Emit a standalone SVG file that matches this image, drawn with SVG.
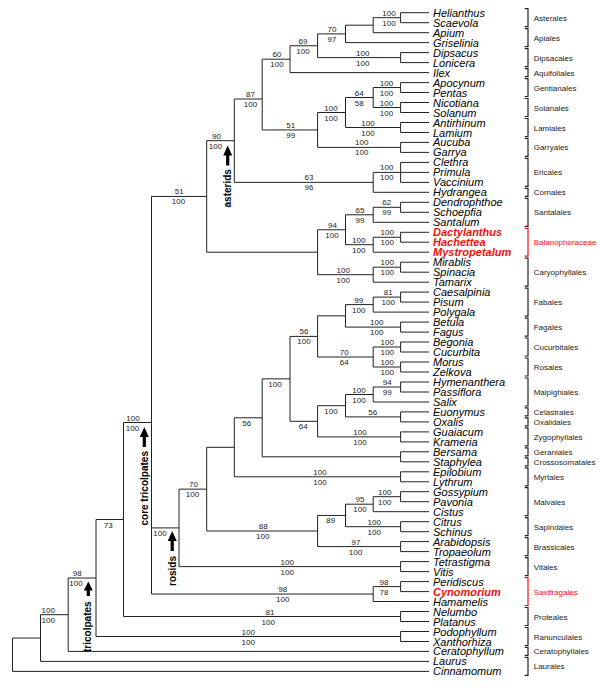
<svg xmlns="http://www.w3.org/2000/svg" width="600" height="688" viewBox="0 0 600 688">
<style>
.t{font:italic 11px "Liberation Sans",Arial,sans-serif;fill:#000}
.r{font-weight:bold;fill:#f01010}
.s{font:8px "Liberation Sans",Arial,sans-serif;fill:#222;text-anchor:middle}
.o{font:8px "Liberation Sans",Arial,sans-serif;fill:#222}
.or{fill:#f01010}
.b{fill:none;stroke:#222;stroke-width:1.2}
.br{stroke:#f01010}
.e{fill:none;stroke:#222;stroke-width:1}
.c{font:bold 10px "Liberation Sans",Arial,sans-serif;fill:#000;text-anchor:middle}
.a{fill:#000}
</style>
<rect width="600" height="688" fill="#fff"/>
<g id="connectors">
<path class="e" d="M429 12.7H400.6V22.7H429M429 52.6H400.6V62.6H429M429 82.6H400.6V92.5H429M429 102.5H400.6V112.5H429M429 122.5H400.6V132.5H429M429 142.4H400.6V152.4H429M429 162.4H400.6V182.4H429M400.6 172.4H429M429 202.3H400.6V212.3H429M429 232.3H400.6V242.2H429M429 262.2H400.6V272.2H429M429 292.1H400.6V302.1H429M429 322.1H400.6V332.1H429M429 342H400.6V352H429M429 362H400.6V372H429M429 382H400.6V392H429M429 411.9H400.6V421.9H429M429 431.9H400.6V441.9H429M429 451.8H400.6V461.8H429M429 471.8H400.6V481.8H429M429 491.7H400.6V501.7H429M429 521.7H400.6V531.7H429M429 541.6H400.6V551.6H429M429 561.6H400.6V571.6H429M429 581.6H400.6V591.6H429M429 611.5H400.6V621.5H429M429 631.5H400.6V641.5H429"/>
<path class="e" d="M400.6 17.7H373.2V32.7H429M373.2 25.2H345.5V42.6H429M345.5 33.9H317.6V57.6H400.6M317.6 45.75H290V72.6H429M400.6 87.55H373.2V107.5H400.6M373.2 97.5H345.5V127.5H400.6M345.5 112.5H317.6V147.4H400.6M290 59.2H262.2V129.95H317.6M400.6 172.4H373.2V192.3H429M262.2 99H234.3V182.35H373.2M400.6 207.3H373.2V222.3H429M400.6 237.25H373.2V252.2H429M373.2 214.8H345.5V244.7H373.2M400.6 267.2H373.2V282.2H429M345.5 229.75H317.6V274.7H373.2M234.3 140.7H206.7V252.2H317.6"/>
<path class="e" d="M400.6 297.1H373.2V312.1H429M373.2 304.6H345.5V327.1H400.6M400.6 347H373.2V367H400.6M345.5 315.85H317.6V357H373.2M400.6 387H373.2V402H429M373.2 394.5H345.5V416.9H400.6M345.5 405.7H317.6V436.9H400.6M317.6 336.4H290V421.3H317.6M290 378.85H262.2V456.8H400.6M262.2 417.8H234.3V476.8H400.6M400.6 496.7H373.2V511.7H429M373.2 504.2H345.5V526.7H400.6M345.5 515.45H317.6V546.6H400.6M234.3 447.3H206.7V531H317.6M206.7 489.15H179V566.6H400.6M400.6 586.6H373.2V601.5H429M206.7 196.45H151.5V594.05H373.2M151.5 527.9H179M151.5 422.5H123.5V616.5H400.6M123.5 519.5H96V636.5H400.6M96 578H68.2V651.4H429M68.2 614.7H40.5V661.4H429M40.5 638.05H12.5V671.4H429"/>
</g>
<g id="support">
<text class="s" x="389" y="15.7">100</text><text class="s" x="389" y="25.7">100</text>
<text class="s" x="332" y="31.9">70</text><text class="s" x="332" y="41.9">97</text>
<text class="s" x="362.7" y="55.6">100</text><text class="s" x="362.7" y="65.6">100</text>
<text class="s" x="303" y="43.75">69</text><text class="s" x="303" y="53.75">100</text>
<text class="s" x="277" y="57.2">60</text><text class="s" x="277" y="67.2">100</text>
<text class="s" x="250.5" y="97">87</text><text class="s" x="250.5" y="107">100</text>
<text class="s" x="386.5" y="85.55">100</text><text class="s" x="386.5" y="95.55">100</text>
<text class="s" x="386.5" y="105.5">100</text><text class="s" x="386.5" y="115.5">100</text>
<text class="s" x="359.3" y="95.5">64</text><text class="s" x="359.3" y="105.5">58</text>
<text class="s" x="368" y="125.5">100</text><text class="s" x="368" y="135.5">100</text>
<text class="s" x="331" y="110.5">100</text><text class="s" x="331" y="120.5">100</text>
<text class="s" x="361.7" y="145.4">100</text><text class="s" x="361.7" y="155.4">100</text>
<text class="s" x="290.7" y="127.95">51</text><text class="s" x="290.7" y="137.95">99</text>
<text class="s" x="386.7" y="170.4">100</text><text class="s" x="386.7" y="180.4">100</text>
<text class="s" x="309" y="180.35">63</text><text class="s" x="309" y="190.35">96</text>
<text class="s" x="216.5" y="138.7">90</text><text class="s" x="215.5" y="148.7">100</text>
<text class="s" x="386.7" y="205.3">62</text><text class="s" x="386.7" y="215.3">99</text>
<text class="s" x="360" y="212.8">65</text><text class="s" x="360" y="222.8">99</text>
<text class="s" x="332.5" y="227.75">94</text><text class="s" x="332" y="237.75">100</text>
<text class="s" x="387.3" y="235.25">100</text><text class="s" x="387.3" y="245.25">100</text>
<text class="s" x="358.7" y="242.7">100</text><text class="s" x="358.7" y="252.7">100</text>
<text class="s" x="387.3" y="265.2">100</text><text class="s" x="387.3" y="275.2">100</text>
<text class="s" x="343.3" y="272.7">100</text><text class="s" x="343.3" y="282.7">100</text>
<text class="s" x="179.3" y="194.45">51</text><text class="s" x="178.5" y="204.45">100</text>
<text class="s" x="388.3" y="295.1">81</text><text class="s" x="388.3" y="305.1">100</text>
<text class="s" x="358.7" y="302.6">99</text><text class="s" x="358.7" y="312.6">100</text>
<text class="s" x="376.7" y="325.1">100</text><text class="s" x="376.7" y="335.1">100</text>
<text class="s" x="304" y="334.4">56</text><text class="s" x="304" y="344.4">100</text>
<text class="s" x="387.3" y="345">100</text><text class="s" x="387.3" y="355">100</text>
<text class="s" x="387.3" y="365">100</text><text class="s" x="387.3" y="375">100</text>
<text class="s" x="344.3" y="355">70</text><text class="s" x="344.3" y="365">64</text>
<text class="s" x="387.3" y="385">94</text><text class="s" x="387.3" y="395">99</text>
<text class="s" x="359" y="392.5">100</text><text class="s" x="359" y="402.5">100</text>
<text class="s" x="372.7" y="414.9">56</text>
<text class="s" x="331" y="413.7">100</text>
<text class="s" x="360" y="434.9">100</text><text class="s" x="360" y="444.9">100</text>
<text class="s" x="303.3" y="429.3">64</text>
<text class="s" x="275" y="386.85">100</text>
<text class="s" x="246.7" y="425.8">56</text>
<text class="s" x="320" y="474.8">100</text><text class="s" x="320" y="484.8">100</text>
<text class="s" x="384.7" y="494.7">100</text><text class="s" x="384.7" y="504.7">100</text>
<text class="s" x="360" y="502.2">95</text><text class="s" x="360" y="512.2">100</text>
<text class="s" x="374.3" y="524.7">100</text><text class="s" x="374.3" y="534.7">100</text>
<text class="s" x="330.7" y="523.45">89</text>
<text class="s" x="356" y="544.6">97</text><text class="s" x="355.5" y="554.6">100</text>
<text class="s" x="263.3" y="529">88</text><text class="s" x="262.7" y="539">100</text>
<text class="s" x="193.5" y="487.15">70</text><text class="s" x="192.5" y="497.15">100</text>
<text class="s" x="287.3" y="564.6">100</text><text class="s" x="287.3" y="574.6">100</text>
<text class="s" x="160" y="535.9">100</text>
<text class="s" x="384" y="584.6">98</text><text class="s" x="384" y="594.6">78</text>
<text class="s" x="282.7" y="592.05">98</text><text class="s" x="282.7" y="602.05">100</text>
<text class="s" x="133" y="420.5">100</text><text class="s" x="132.5" y="430.5">100</text>
<text class="s" x="270" y="614.5">81</text><text class="s" x="268.3" y="624.5">100</text>
<text class="s" x="108.3" y="527.5">73</text>
<text class="s" x="248.3" y="634.5">100</text><text class="s" x="248.3" y="644.5">100</text>
<text class="s" x="77.3" y="576">98</text><text class="s" x="76" y="586">100</text>
<text class="s" x="48.3" y="612.7">100</text><text class="s" x="48.3" y="622.7">100</text>
</g>
<g id="clades">
<path class="a" d="M227.7 145.5L232.2 155.5H229.3V165.5H226.1V155.5H223.2Z"/>
<text class="c" transform="translate(227.7,188.3) rotate(-90)" y="3.6">asterids</text>
<path class="a" d="M144.3 427L148.8 437H145.9V447H142.7V437H139.8Z"/>
<text class="c" transform="translate(144,488.3) rotate(-90)" y="3.6">core tricolpates</text>
<path class="a" d="M172.2 531L176.7 541H173.8V551H170.6V541H167.7Z"/>
<text class="c" transform="translate(172.2,571) rotate(-90)" y="3.6">rosids</text>
<path class="a" d="M88.3 581.5L92.8 590.5H89.9V596H86.7V590.5H83.8Z"/>
<text class="c" transform="translate(87.5,626.7) rotate(-90)" y="3.6">tricolpates</text>
</g>
<g id="taxa">
<g id="n-helianthus"><text class="t" x="433" y="16.7">Helianthus</text></g>
<g id="n-scaevola"><text class="t" x="433" y="26.7">Scaevola</text></g>
<g id="n-apium"><text class="t" x="433" y="36.7">Apium</text></g>
<g id="n-griselinia"><text class="t" x="433" y="46.6">Griselinia</text></g>
<g id="n-dipsacus"><text class="t" x="433" y="56.6">Dipsacus</text></g>
<g id="n-lonicera"><text class="t" x="433" y="66.6">Lonicera</text></g>
<g id="n-ilex"><text class="t" x="433" y="76.6">Ilex</text></g>
<g id="n-apocynum"><text class="t" x="433" y="86.6">Apocynum</text></g>
<g id="n-pentas"><text class="t" x="433" y="96.5">Pentas</text></g>
<g id="n-nicotiana"><text class="t" x="433" y="106.5">Nicotiana</text></g>
<g id="n-solanum"><text class="t" x="433" y="116.5">Solanum</text></g>
<g id="n-antirhinum"><text class="t" x="433" y="126.5">Antirhinum</text></g>
<g id="n-lamium"><text class="t" x="433" y="136.5">Lamium</text></g>
<g id="n-aucuba"><text class="t" x="433" y="146.4">Aucuba</text></g>
<g id="n-garrya"><text class="t" x="433" y="156.4">Garrya</text></g>
<g id="n-clethra"><text class="t" x="433" y="166.4">Clethra</text></g>
<g id="n-primula"><text class="t" x="433" y="176.4">Primula</text></g>
<g id="n-vaccinium"><text class="t" x="433" y="186.4">Vaccinium</text></g>
<g id="n-hydrangea"><text class="t" x="433" y="196.3">Hydrangea</text></g>
<g id="n-dendrophthoe"><text class="t" x="433" y="206.3">Dendrophthoe</text></g>
<g id="n-schoepfia"><text class="t" x="433" y="216.3">Schoepfia</text></g>
<g id="n-santalum"><text class="t" x="433" y="226.3">Santalum</text></g>
<g id="n-dactylanthus"><text class="t r" x="433" y="236.3">Dactylanthus</text></g>
<g id="n-hachettea"><text class="t r" x="433" y="246.2">Hachettea</text></g>
<g id="n-mystropetalum"><text class="t r" x="433" y="256.2">Mystropetalum</text></g>
<g id="n-mirablis"><text class="t" x="433" y="266.2">Mirablis</text></g>
<g id="n-spinacia"><text class="t" x="433" y="276.2">Spinacia</text></g>
<g id="n-tamarix"><text class="t" x="433" y="286.2">Tamarix</text></g>
<g id="n-caesalpinia"><text class="t" x="433" y="296.1">Caesalpinia</text></g>
<g id="n-pisum"><text class="t" x="433" y="306.1">Pisum</text></g>
<g id="n-polygala"><text class="t" x="433" y="316.1">Polygala</text></g>
<g id="n-betula"><text class="t" x="433" y="326.1">Betula</text></g>
<g id="n-fagus"><text class="t" x="433" y="336.1">Fagus</text></g>
<g id="n-begonia"><text class="t" x="433" y="346">Begonia</text></g>
<g id="n-cucurbita"><text class="t" x="433" y="356">Cucurbita</text></g>
<g id="n-morus"><text class="t" x="433" y="366">Morus</text></g>
<g id="n-zelkova"><text class="t" x="433" y="376">Zelkova</text></g>
<g id="n-hymenanthera"><text class="t" x="433" y="386">Hymenanthera</text></g>
<g id="n-passiflora"><text class="t" x="433" y="396">Passiflora</text></g>
<g id="n-salix"><text class="t" x="433" y="406">Salix</text></g>
<g id="n-euonymus"><text class="t" x="433" y="415.9">Euonymus</text></g>
<g id="n-oxalis"><text class="t" x="433" y="425.9">Oxalis</text></g>
<g id="n-guaiacum"><text class="t" x="433" y="435.9">Guaiacum</text></g>
<g id="n-krameria"><text class="t" x="433" y="445.9">Krameria</text></g>
<g id="n-bersama"><text class="t" x="433" y="455.8">Bersama</text></g>
<g id="n-staphylea"><text class="t" x="433" y="465.8">Staphylea</text></g>
<g id="n-epilobium"><text class="t" x="433" y="475.8">Epilobium</text></g>
<g id="n-lythrum"><text class="t" x="433" y="485.8">Lythrum</text></g>
<g id="n-gossypium"><text class="t" x="433" y="495.7">Gossypium</text></g>
<g id="n-pavonia"><text class="t" x="433" y="505.7">Pavonia</text></g>
<g id="n-cistus"><text class="t" x="433" y="515.7">Cistus</text></g>
<g id="n-citrus"><text class="t" x="433" y="525.7">Citrus</text></g>
<g id="n-schinus"><text class="t" x="433" y="535.7">Schinus</text></g>
<g id="n-arabidopsis"><text class="t" x="433" y="545.6">Arabidopsis</text></g>
<g id="n-tropaeolum"><text class="t" x="433" y="555.6">Tropaeolum</text></g>
<g id="n-tetrastigma"><text class="t" x="433" y="565.6">Tetrastigma</text></g>
<g id="n-vitis"><text class="t" x="433" y="575.6">Vitis</text></g>
<g id="n-peridiscus"><text class="t" x="433" y="585.6">Peridiscus</text></g>
<g id="n-cynomorium"><text class="t r" x="433" y="595.6">Cynomorium</text></g>
<g id="n-hamamelis"><text class="t" x="433" y="605.5">Hamamelis</text></g>
<g id="n-nelumbo"><text class="t" x="433" y="615.5">Nelumbo</text></g>
<g id="n-platanus"><text class="t" x="433" y="625.5">Platanus</text></g>
<g id="n-podophyllum"><text class="t" x="433" y="635.5">Podophyllum</text></g>
<g id="n-xanthorhiza"><text class="t" x="433" y="645.5">Xanthorhiza</text></g>
<g id="n-ceratophyllum"><text class="t" x="433" y="655.4">Ceratophyllum</text></g>
<g id="n-laurus"><text class="t" x="433" y="665.4">Laurus</text></g>
<g id="n-cinnamomum"><text class="t" x="433" y="675.4">Cinnamomum</text></g>
</g>
<g id="orders">
<g id="o-asterales"><path class="b" d="M524.7 8.7H528V26.7H524.7"/><text class="o" x="533.7" y="20.7">Asterales</text></g>
<g id="o-apiales"><path class="b" d="M524.7 28.7H528V46.6H524.7"/><text class="o" x="533.7" y="40.65">Apiales</text></g>
<g id="o-dipsacales"><path class="b" d="M524.7 48.6H528V66.6H524.7"/><text class="o" x="533.7" y="60.6">Dipsacales</text></g>
<g id="o-aquifoliales"><path class="b" d="M524.7 68.6H528V76.6H524.7"/><text class="o" x="533.7" y="75.6">Aquifoliales</text></g>
<g id="o-gentianales"><path class="b" d="M524.7 78.6H528V96.5H524.7"/><text class="o" x="533.7" y="90.55">Gentianales</text></g>
<g id="o-solanales"><path class="b" d="M524.7 98.5H528V116.5H524.7"/><text class="o" x="533.7" y="110.5">Solanales</text></g>
<g id="o-lamiales"><path class="b" d="M524.7 118.5H528V136.5H524.7"/><text class="o" x="533.7" y="130.5">Lamiales</text></g>
<g id="o-garryales"><path class="b" d="M524.7 138.4H528V156.4H524.7"/><text class="o" x="533.7" y="150.4">Garryales</text></g>
<g id="o-ericales"><path class="b" d="M524.7 158.4H528V186.4H524.7"/><text class="o" x="533.7" y="175.4">Ericales</text></g>
<g id="o-cornales"><path class="b" d="M524.7 188.3H528V196.3H524.7"/><text class="o" x="533.7" y="195.3">Cornales</text></g>
<g id="o-santalales"><path class="b" d="M524.7 198.3H528V226.3H524.7"/><text class="o" x="533.7" y="215.3">Santalales</text></g>
<g id="o-balanophoraceae"><path class="b br" d="M524.7 228.3H528V256.2H524.7"/><text class="o or" x="533.7" y="245.2">Balanophoraceae</text></g>
<g id="o-caryophyllales"><path class="b" d="M524.7 258.2H528V286.2H524.7"/><text class="o" x="533.7" y="275.2">Caryophyllales</text></g>
<g id="o-fabales"><path class="b" d="M524.7 288.1H528V316.1H524.7"/><text class="o" x="533.7" y="305.1">Fabales</text></g>
<g id="o-fagales"><path class="b" d="M524.7 318.1H528V336.1H524.7"/><text class="o" x="533.7" y="330.1">Fagales</text></g>
<g id="o-cucurbitales"><path class="b" d="M524.7 338H528V356H524.7"/><text class="o" x="533.7" y="350">Cucurbitales</text></g>
<g id="o-rosales"><path class="b" d="M524.7 358H528V376H524.7"/><text class="o" x="533.7" y="370">Rosales</text></g>
<g id="o-malpighiales"><path class="b" d="M524.7 378H528V406H524.7"/><text class="o" x="533.7" y="395">Malpighiales</text></g>
<g id="o-celastrales"><path class="b" d="M524.7 407.9H528V415.9H524.7"/><text class="o" x="533.7" y="414.9">Celastrales</text></g>
<g id="o-oxalidales"><path class="b" d="M524.7 417.9H528V425.9H524.7"/><text class="o" x="533.7" y="424.9">Oxalidales</text></g>
<g id="o-zygophyllales"><path class="b" d="M524.7 427.9H528V445.9H524.7"/><text class="o" x="533.7" y="439.9">Zygophyllales</text></g>
<g id="o-geraniales"><path class="b" d="M524.7 447.8H528V455.8H524.7"/><text class="o" x="533.7" y="454.8">Geraniales</text></g>
<g id="o-crossosomatales"><path class="b" d="M524.7 457.8H528V465.8H524.7"/><text class="o" x="533.7" y="464.8">Crossosomatales</text></g>
<g id="o-myrtales"><path class="b" d="M524.7 467.8H528V485.8H524.7"/><text class="o" x="533.7" y="479.8">Myrtales</text></g>
<g id="o-malvales"><path class="b" d="M524.7 487.7H528V515.7H524.7"/><text class="o" x="533.7" y="504.7">Malvales</text></g>
<g id="o-sapindales"><path class="b" d="M524.7 517.7H528V535.7H524.7"/><text class="o" x="533.7" y="529.7">Sapindales</text></g>
<g id="o-brassicales"><path class="b" d="M524.7 537.6H528V555.6H524.7"/><text class="o" x="533.7" y="549.6">Brassicales</text></g>
<g id="o-vitales"><path class="b" d="M524.7 557.6H528V575.6H524.7"/><text class="o" x="533.7" y="569.6">Vitales</text></g>
<g id="o-saxifragales"><path class="b br" d="M524.7 577.6H528V605.5H524.7"/><text class="o or" x="533.7" y="594.6">Saxifragales</text></g>
<g id="o-proteales"><path class="b" d="M524.7 607.5H528V625.5H524.7"/><text class="o" x="533.7" y="619.5">Proteales</text></g>
<g id="o-ranunculales"><path class="b" d="M524.7 627.5H528V645.5H524.7"/><text class="o" x="533.7" y="639.5">Ranunculales</text></g>
<g id="o-ceratophyllales"><path class="b" d="M524.7 647.4H528V655.4H524.7"/><text class="o" x="533.7" y="654.4">Ceratophyllales</text></g>
<g id="o-laurales"><path class="b" d="M524.7 657.4H528V675.4H524.7"/><text class="o" x="533.7" y="669.4">Laurales</text></g>
</g>
</svg>
